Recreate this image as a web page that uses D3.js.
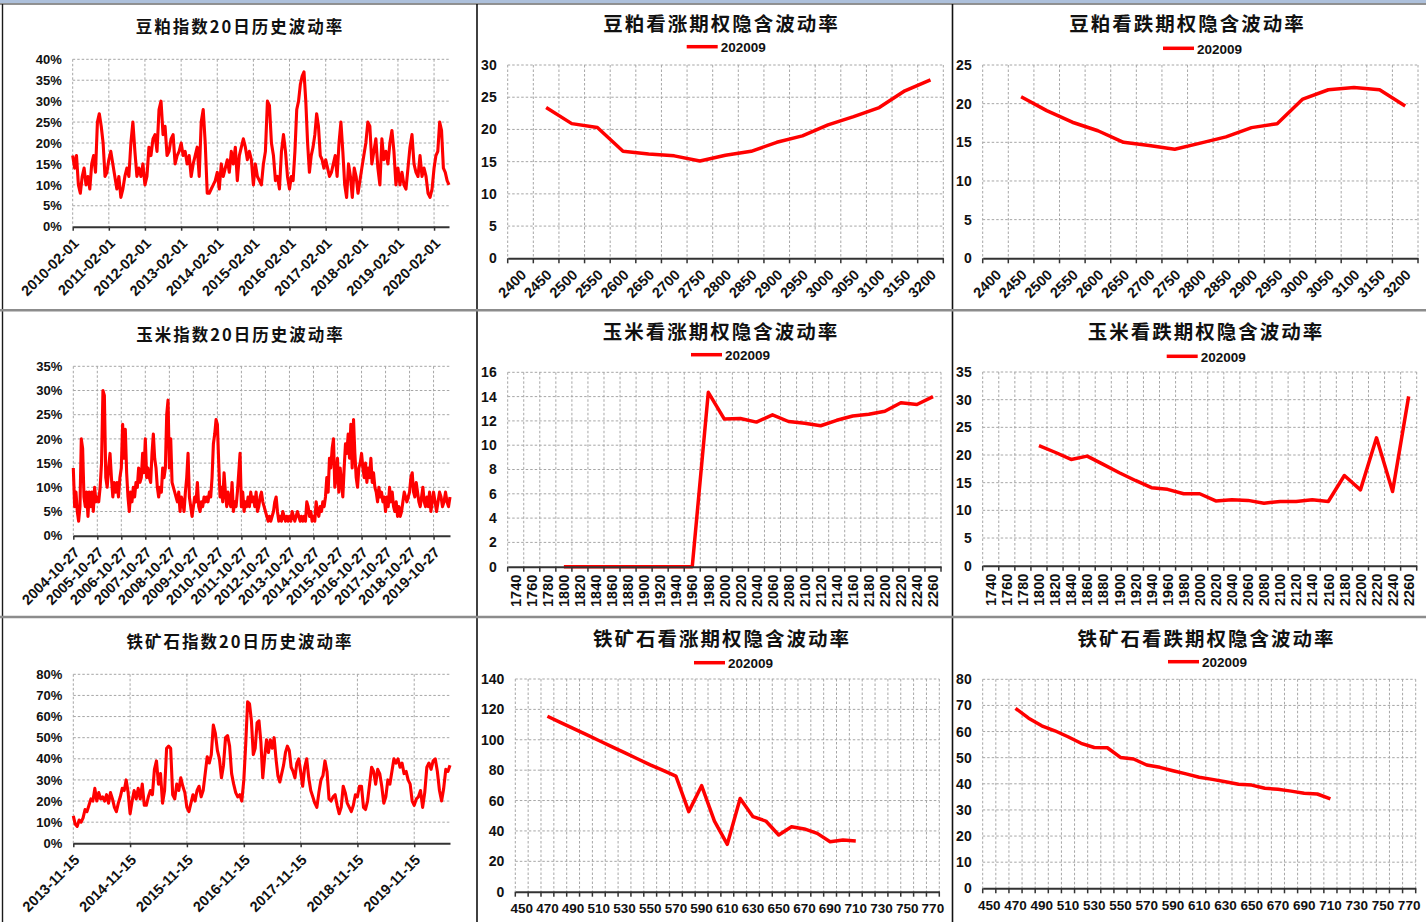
<!DOCTYPE html>
<html><head><meta charset="utf-8">
<script src="https://cdn.jsdelivr.net/npm/d3@7"></script>
<style>
body{margin:0;background:#fff}
svg{display:block}
.grid{stroke:#a6a6a6;stroke-width:1;stroke-dasharray:2.5,2;fill:none}
.num{font-family:"Liberation Sans",Arial,sans-serif;font-weight:700;fill:#111}
.ttl{font-family:"Noto Sans CJK SC",sans-serif;font-weight:700;fill:#111}
</style>
</head><body>
<svg id="c" width="1426" height="922"></svg>
<script>
// ---------------- DATA ----------------
const legendLabel = "202009";

// historical volatility (%), one inner list per interval between x tick dates
const soyHvDates = ["2010-02-01","2011-02-01","2012-02-01","2013-02-01","2014-02-01","2015-02-01","2016-02-01","2017-02-01","2018-02-01","2019-02-01","2020-02-01"];
const soyHvEnd = "2020-07-01";
const soyHvTicks = [0,5,10,15,20,25,30,35,40];
const soyHv = [
  [17,14,17,10,8,12,14,10,12,9,15,17,13,25,27,24,20,12,13],
  [16,18,15,12,9,12,7,9,12,14,12,20,25,18,12,14,12,15],
  [10,12,19,17,21,22,18,28,30,22,24,17,18,21,22,15,17,18],
  [20,17,18,15,17,12,15,17,19,12,25,28,20,8,8,9,10,11],
  [13,9,15,12,14,16,13,18,15,19,11,17,19,21,19,16,18,16],
  [10,15,12,11,10,15,18,30,29,20,17,11,12,9,18,22,18,12],
  [9,12,11,18,28,30,34,36,37,30,20,13,17,19,22,27,24,17,16,14],
  [16,14,12,13,15,17,12,20,25,18,10,7,15,12,7,14,12,8,11],
  [14,17,20,25,24,15,18,21,14,10,21,16,18,15,20,23,18,10],
  [14,10,13,10,9,14,19,22,15,13,12,17,12,14,12,8,7,9],
  [14,17,18,25,23,14,13,11,10]
];

const cornHvDates = ["2004-10-27","2005-10-27","2006-10-27","2007-10-27","2008-10-27","2009-10-27","2010-10-27","2011-10-27","2012-10-27","2013-10-27","2014-10-27","2015-10-27","2016-10-27","2017-10-27","2018-10-27","2019-10-27"];
const cornHvEnd = "2020-07-03";
const cornHvTicks = [0,5,10,15,20,25,30,35];
const cornHv = [
  [14,6,9,5,3,6,20,18,8,6,9,4,9,6,9,5,10,7],
  [8,7,10,15,30,29,12,10,14,17,12,8,11,9,11,8,12],
  [14,23,16,22,13,8,5,9,7,10,8,11,10,14,11,12,17,13],
  [20,12,14,12,11,17,21,16,14,10,8,10,9,14,12,14,25,28],
  [14,20,11,10,9,8,7,9,5,8,7,5,9,12,17,8,6,4],
  [6,8,7,11,6,5,7,6,8,7,8,7,9,8,12,19,21,24],
  [23,15,8,10,7,13,9,6,9,7,6,11,5,7,6,9,13,17],
  [6,9,5,7,6,8,6,9,7,8,6,9,5,6,8,9,7,6],
  [5,4,3,4,3,4,5,7,8,5,3,4,3,5,4,3,4,3],
  [4,3,5,4,3,4,5,4,3,4,3,4,3,7,6,4,5,3],
  [4,3,7,5,4,6,5,7,6,8,12,9,16,14,18,20,10,12],
  [16,9,14,11,8,14,19,17,21,16,23,14,24,17,12,10,14,15],
  [17,14,12,15,11,14,12,16,11,13,10,9,7,10,8,9,7,8],
  [5,8,6,10,7,9,6,5,7,4,6,4,5,7,9,8,7,8],
  [9,12,13,9,8,11,9,7,6,8,10,7,6,8,6,9,5,7],
  [9,7,5,7,9,8,6,7,9,7,6,8]
];

const ironHvDates = ["2013-11-15","2014-11-15","2015-11-15","2016-11-15","2017-11-15","2018-11-15","2019-11-15"];
const ironHvEnd = "2020-07-02";
const ironHvTicks = [0,10,20,30,40,50,60,70,80];
const ironHv = [
  [13,9,8,11,10,12,16,15,18,21,20,26,20,24,21,22,20,23,19,24,21,17,15,19,22,26,25,30,24],
  [14,20,25,21,26,21,28,18,18,22,25,23,35,39,28,33,19,25,45,46,45,23,21,28,25,31,27,24],
  [17,15,19,23,20,25,27,22,25,33,41,38,42,56,52,44,40,31,37,50,51,46,33,28,24,22,23,20],
  [30,47,67,66,58,42,45,57,58,48,31,41,49,43,49,45,50,40,32,29,33,37,43,46,44,36,34,31,38,40],
  [34,27,36,40,31,25,22,19,17,24,30,32,39,34,21,20,22,23,18,14,17,27,24,19,17,15,18,23],
  [22,27,27,17,16,20,28,36,34,28,35,33,27,19,22,30,28,34,40,38,40,36,38,33,34,30,28,20],
  [18,21,22,25,17,24,36,38,35,39,40,34,25,20,26,35,34,37]
];

// implied volatility by strike
const soyStrikes = [2400,2450,2500,2550,2600,2650,2700,2750,2800,2850,2900,2950,3000,3050,3100,3150,3200];
const soyCallIV = [null,23.4,20.9,20.3,16.6,16.2,15.9,15.1,16.0,16.6,18.0,19.0,20.7,22.0,23.4,26.0,27.7];
const soyPutIV  = [null,20.9,19.1,17.6,16.5,15.0,14.6,14.1,14.9,15.7,16.9,17.4,20.6,21.8,22.1,21.8,19.7];
const soyCallTicks = [0,5,10,15,20,25,30];
const soyPutTicks = [0,5,10,15,20,25];

const cornStrikes = [1740,1760,1780,1800,1820,1840,1860,1880,1900,1920,1940,1960,1980,2000,2020,2040,2060,2080,2100,2120,2140,2160,2180,2200,2220,2240,2260];
const cornCallIV = [null,null,null,0,0,0,0,0,0,0,0,0,14.35,12.15,12.2,11.9,12.5,11.95,11.8,11.6,12.05,12.4,12.55,12.8,13.5,13.35,14.0];
const cornPutIV  = [null,null,null,21.7,20.5,19.2,19.8,18.3,16.8,15.4,14.1,13.8,13.0,13.0,11.7,11.9,11.8,11.3,11.6,11.6,11.9,11.6,16.3,13.7,23.1,13.4,30.6];
const cornCallTicks = [0,2,4,6,8,10,12,14,16];
const cornPutTicks = [0,5,10,15,20,25,30,35];

const ironStrikes = [450,460,470,480,490,500,510,520,530,540,550,560,570,580,590,600,610,620,630,640,650,660,670,680,690,700,710,720,730,740,750,760,770];
const ironStrikeLabels = [450,470,490,510,530,550,570,590,610,630,650,670,690,710,730,750,770];
const ironCallIV = [null,null,115.5,111.5,107.5,103.5,99.5,95.5,91.5,87.5,83.5,79.8,76.1,52.7,69.8,46.5,31.2,61.4,49.4,46.5,37.3,42.8,41.3,38.4,32.9,34.0,33.4,null,null,null,null,null,null];
const ironPutIV  = [null,null,68.9,65.1,62.2,60.3,58.0,55.5,53.9,53.8,50.1,49.5,47.2,46.3,45.0,43.8,42.5,41.7,40.8,39.8,39.5,38.3,37.9,37.2,36.4,36.1,34.2,null,null,null,null,null,null];
const ironCallTicks = [0,20,40,60,80,100,120,140];
const ironPutTicks = [0,10,20,30,40,50,60,70,80];

const titles = [
  "豆粕指数20日历史波动率","豆粕看涨期权隐含波动率","豆粕看跌期权隐含波动率",
  "玉米指数20日历史波动率","玉米看涨期权隐含波动率","玉米看跌期权隐含波动率",
  "铁矿石指数20日历史波动率","铁矿石看涨期权隐含波动率","铁矿石看跌期权隐含波动率"
];

// ---------------- DRAW ----------------
const svg = d3.select('#c');
const parse = d3.utcParse('%Y-%m-%d');
const RED = '#ff0000';

// frame
const fr = svg.append('g');
fr.append('rect').attr('x',0).attr('y',0).attr('width',1426).attr('height',3.2).attr('fill','#adc0db');
fr.append('line').attr('x1',0).attr('x2',1426).attr('y1',4).attr('y2',4).attr('stroke','#6e6e6e').attr('stroke-width',1.6);
fr.append('line').attr('x1',2.5).attr('x2',2.5).attr('y1',4).attr('y2',922).attr('stroke','#1a1a1a').attr('stroke-width',1.4);
[477,952.5].forEach(xv=>fr.append('line').attr('x1',xv).attr('x2',xv).attr('y1',4).attr('y2',922).attr('stroke','#111').attr('stroke-width',1.6));
[310.3,617].forEach(yv=>fr.append('line').attr('x1',0).attr('x2',1426).attr('y1',yv).attr('y2',yv).attr('stroke','#8c8c8c').attr('stroke-width',2.6));

function title(g, text, cx, by, size){
  g.append('text').attr('class','ttl').attr('x',cx+1).attr('y',by)
    .attr('text-anchor','middle').style('font-size',size+'px').style('letter-spacing','2px').text(text);
}
function legend(g, L){
  g.append('line').attr('x1',L.lx).attr('x2',L.lx+31).attr('y1',L.ly).attr('y2',L.ly)
    .attr('stroke',RED).attr('stroke-width',3.5);
  g.append('text').attr('class','num').attr('x',L.lx+34).attr('y',L.ly+5.5)
    .style('font-size','13.5px').text(legendLabel);
}

function drawHV(L, ttl, dateLabels, endLabel, yTicks, segs){
  const g = svg.append('g');
  const dates = dateLabels.map(parse);
  const end = parse(endLabel);
  const x = d3.scaleUtc().domain([dates[0], end]).range([L.x0, L.x1]);
  const y = d3.scaleLinear().domain([0, d3.max(yTicks)]).range([L.yb, L.yt]);
  g.append('g').selectAll('line').data(yTicks.slice(1)).join('line').attr('class','grid')
    .attr('x1',L.x0).attr('x2',L.x1).attr('y1',d=>y(d)).attr('y2',d=>y(d));
  g.append('g').selectAll('line').data(dates).join('line').attr('class','grid')
    .attr('x1',d=>x(d)).attr('x2',d=>x(d)).attr('y1',L.yt).attr('y2',L.yb);
  const pts = [];
  segs.forEach((vals,i)=>{
    const a = dates[i], b = i+1<dates.length ? dates[i+1] : end;
    const last = i===segs.length-1;
    vals.forEach((v,j)=>{
      const f = last ? j/(vals.length-1) : j/vals.length;
      pts.push({t:new Date(+a + f*(b-a)), v});
    });
  });
  g.append('path').datum(pts).attr('fill','none').attr('stroke',RED).attr('stroke-width',3.1)
    .attr('stroke-linejoin','round')
    .attr('d', d3.line().x(d=>x(d.t)).y(d=>y(d.v)));
  const xa = g.append('g').attr('transform',`translate(0,${L.yb})`)
    .call(d3.axisBottom(x).tickValues(dates).tickSize(4).tickSizeOuter(0).tickFormat(d3.utcFormat('%Y-%m-%d')));
  xa.select('.domain').attr('stroke','#333').attr('stroke-width',2);
  xa.selectAll('.tick line').attr('stroke','#333').attr('stroke-width',1.5);
  xa.selectAll('text').attr('class','num').attr('x',0).attr('y',0).attr('dy','0.35em')
    .attr('transform','translate(3,14) rotate(-45)').style('text-anchor','end')
    .style('font-size','14.5px').attr('fill','#111');
  const ya = g.append('g').attr('transform',`translate(${L.x0},0)`)
    .call(d3.axisLeft(y).tickValues(yTicks).tickSize(0).tickPadding(11).tickFormat(d=>d+'%'));
  ya.select('.domain').remove();
  ya.selectAll('text').attr('class','num').style('font-size','13px').attr('fill','#111');
  title(g, ttl, L.tx, L.ty, 16.5);
}

function drawIV(L, ttl, strikes, labels, yTicks, vals, vertical){
  const g = svg.append('g');
  const x = d3.scaleBand().domain(strikes).range([L.x0, L.x1]);
  const bw = x.bandwidth();
  const y = d3.scaleLinear().domain([0, d3.max(yTicks)]).range([L.yb, L.yt]);
  const bounds = strikes.map(s=>x(s)).concat([L.x1]);
  g.append('g').selectAll('line').data(yTicks.slice(1)).join('line').attr('class','grid')
    .attr('x1',L.x0).attr('x2',L.x1).attr('y1',d=>y(d)).attr('y2',d=>y(d));
  g.append('g').selectAll('line').data(bounds).join('line').attr('class','grid')
    .attr('x1',d=>d).attr('x2',d=>d).attr('y1',L.yt).attr('y2',L.yb);
  const pts = strikes.map((s,i)=>({s, v:vals[i]}));
  g.append('path').datum(pts).attr('fill','none').attr('stroke',RED).attr('stroke-width',3.5)
    .attr('stroke-linejoin','round')
    .attr('d', d3.line().defined(d=>d.v!=null).x(d=>x(d.s)+bw/2).y(d=>y(d.v)));
  const xa = g.append('g').attr('transform',`translate(0,${L.yb})`)
    .call(d3.axisBottom(x).tickValues(labels).tickSize(0).tickPadding(12).tickSizeOuter(0));
  xa.select('.domain').attr('stroke','#333').attr('stroke-width',2);
  xa.selectAll('text').attr('class','num').style('font-size','13.5px').attr('fill','#111');
  if (vertical==='rot90'){
    xa.selectAll('text').attr('x',-8).attr('y',0).attr('dy','0.36em')
      .attr('transform','rotate(-90)').style('text-anchor','end').style('font-size','14.5px');
  } else if (vertical==='rot45'){
    xa.selectAll('text').attr('x',0).attr('y',0).attr('dy','0.35em')
      .attr('transform','translate(3,14) rotate(-45)').style('text-anchor','end').style('font-size','14.5px');
  }
  g.append('g').selectAll('line').data(bounds).join('line')
    .attr('x1',d=>d).attr('x2',d=>d).attr('y1',L.yb).attr('y2',L.yb+5)
    .attr('stroke','#333').attr('stroke-width',1.5);
  const ya = g.append('g').attr('transform',`translate(${L.x0},0)`)
    .call(d3.axisLeft(y).tickValues(yTicks).tickSize(0).tickPadding(11));
  ya.select('.domain').remove();
  ya.selectAll('text').attr('class','num').style('font-size','14px').attr('fill','#111');
  title(g, ttl, L.tx, L.ty, 19.5);
  legend(g, L);
}

drawHV({x0:72.7,x1:449,yt:59.3,yb:226.7,tx:239,ty:33}, titles[0], soyHvDates, soyHvEnd, soyHvTicks, soyHv);
drawHV({x0:73.3,x1:450,yt:366.3,yb:535.7,tx:239.5,ty:341}, titles[3], cornHvDates, cornHvEnd, cornHvTicks, cornHv);
drawHV({x0:73.3,x1:450,yt:674.3,yb:843.3,tx:239,ty:648}, titles[6], ironHvDates, ironHvEnd, ironHvTicks, ironHv);

drawIV({x0:507.7,x1:943.3,yt:65,yb:258.3,tx:720.5,ty:31,lx:686.7,ly:46.7}, titles[1], soyStrikes, soyStrikes, soyCallTicks, soyCallIV, 'rot45');
drawIV({x0:982.7,x1:1418,yt:65,yb:258.3,tx:1186.5,ty:31,lx:1163,ly:48.3}, titles[2], soyStrikes, soyStrikes, soyPutTicks, soyPutIV, 'rot45');
drawIV({x0:507.7,x1:941,yt:372.3,yb:566.7,tx:720,ty:339,lx:691,ly:354.7}, titles[4], cornStrikes, cornStrikes, cornCallTicks, cornCallIV, 'rot90');
drawIV({x0:982.7,x1:1416.7,yt:372,yb:565.7,tx:1205,ty:338.5,lx:1166.7,ly:356.3}, titles[5], cornStrikes, cornStrikes, cornPutTicks, cornPutIV, 'rot90');
drawIV({x0:515.3,x1:939.3,yt:679,yb:891.7,tx:721,ty:646,lx:694,ly:662.7}, titles[7], ironStrikes, ironStrikeLabels, ironCallTicks, ironCallIV, 'flat');
drawIV({x0:982.7,x1:1415.7,yt:679.3,yb:888.3,tx:1205.5,ty:646,lx:1168,ly:661.7}, titles[8], ironStrikes, ironStrikeLabels, ironPutTicks, ironPutIV, 'flat');
</script>
</body></html>
